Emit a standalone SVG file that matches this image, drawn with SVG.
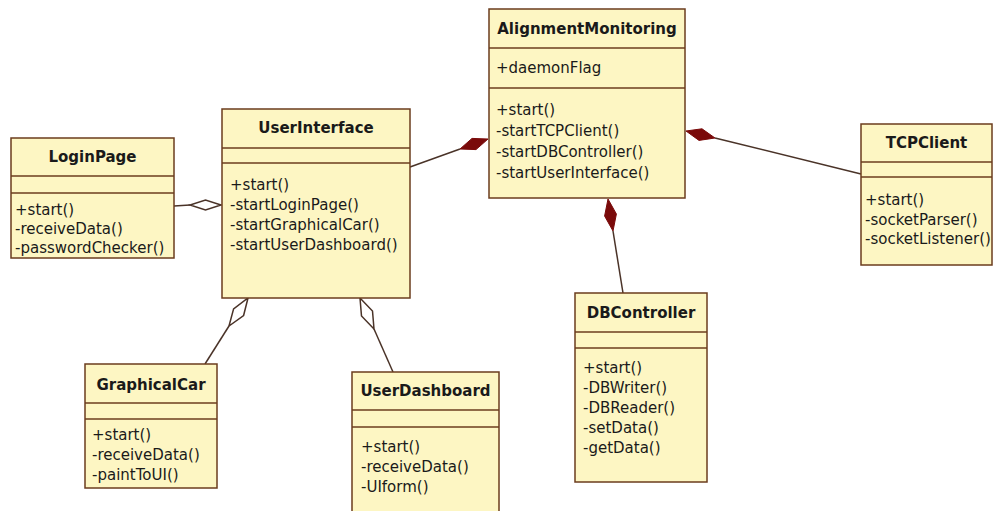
<svg xmlns="http://www.w3.org/2000/svg" width="993" height="511" viewBox="0 0 993 511">
  <style>
    .box { fill: #fdf6c3; stroke: #6b3c1e; stroke-width: 1.5; }
    .sep { stroke: #6b3c1e; stroke-width: 1.5; }
    .title { font-family: "DejaVu Sans", sans-serif; font-weight: bold; font-size: 15px; fill: #1a1a1a; text-anchor: middle; }
    .op { font-family: "DejaVu Sans", sans-serif; font-size: 15px; fill: #1a1a1a; }
    .link { stroke: #4a3328; stroke-width: 1.5; fill: none; }
    .comp { fill: #7a0a0a; stroke: #7a0a0a; stroke-width: 1; }
    .aggr { fill: #ffffff; stroke: #4a3328; stroke-width: 1.5; }
  </style>
  <rect width="993" height="511" fill="#ffffff"/>

  <!-- associations: lines plus composition / aggregation diamonds -->
  <g id="connectors">
    <line class="link" x1="174" y1="206" x2="190" y2="205"/>
    <polygon class="aggr" points="221,205 205.5,200 190,205 205.5,210"/>

    <line class="link" x1="410" y1="167" x2="460" y2="149"/>
    <polygon class="comp" points="488,139 476,149.6 460,149 472,138.4"/>

    <line class="link" x1="715" y1="138" x2="861" y2="174"/>
    <polygon class="comp" points="686,131 699,140.4 715,138 702,128.8"/>

    <line class="link" x1="613" y1="231" x2="623" y2="293"/>
    <polygon class="comp" points="608,199 616.4,214 613,231 604.6,216"/>

    <line class="link" x1="229" y1="326" x2="205" y2="364"/>
    <polygon class="aggr" points="248,298 243.6,315.5 229,326 233.6,308.9"/>

    <line class="link" x1="374" y1="329" x2="393" y2="372"/>
    <polygon class="aggr" points="360,298 372.5,311 374,329 361.5,316"/>
  </g>

  <g id="LoginPage">
    <rect class="box" x="11" y="138" width="163" height="120"/>
    <line class="sep" x1="11" y1="176" x2="174" y2="176"/>
    <line class="sep" x1="11" y1="193" x2="174" y2="193"/>
    <text class="title" x="92.5" y="162">LoginPage</text>
    <text class="op" x="15" y="215">+start()</text>
    <text class="op" x="15" y="234">-receiveData()</text>
    <text class="op" x="15" y="253">-passwordChecker()</text>
  </g>

  <g id="UserInterface">
    <rect class="box" x="222" y="109" width="188" height="189"/>
    <line class="sep" x1="222" y1="148" x2="410" y2="148"/>
    <line class="sep" x1="222" y1="163" x2="410" y2="163"/>
    <text class="title" x="316" y="133">UserInterface</text>
    <text class="op" x="230" y="190">+start()</text>
    <text class="op" x="230" y="210">-startLoginPage()</text>
    <text class="op" x="230" y="230">-startGraphicalCar()</text>
    <text class="op" x="230" y="250">-startUserDashboard()</text>
  </g>

  <g id="AlignmentMonitoring">
    <rect class="box" x="489" y="9" width="196" height="189"/>
    <line class="sep" x1="489" y1="48" x2="685" y2="48"/>
    <line class="sep" x1="489" y1="88" x2="685" y2="88"/>
    <text class="title" x="587" y="34">AlignmentMonitoring</text>
    <text class="op" x="496" y="73">+daemonFlag</text>
    <text class="op" x="496" y="115">+start()</text>
    <text class="op" x="496" y="136">-startTCPClient()</text>
    <text class="op" x="496" y="157">-startDBController()</text>
    <text class="op" x="496" y="178">-startUserInterface()</text>
  </g>

  <g id="TCPClient">
    <rect class="box" x="861" y="124" width="131" height="141"/>
    <line class="sep" x1="861" y1="162" x2="992" y2="162"/>
    <line class="sep" x1="861" y1="177" x2="992" y2="177"/>
    <text class="title" x="926.5" y="148">TCPClient</text>
    <text class="op" x="865" y="205">+start()</text>
    <text class="op" x="865" y="225">-socketParser()</text>
    <text class="op" x="865" y="244">-socketListener()</text>
  </g>

  <g id="DBController">
    <rect class="box" x="575" y="293" width="132" height="189"/>
    <line class="sep" x1="575" y1="332" x2="707" y2="332"/>
    <line class="sep" x1="575" y1="348" x2="707" y2="348"/>
    <text class="title" x="641" y="318">DBController</text>
    <text class="op" x="583" y="373">+start()</text>
    <text class="op" x="583" y="393">-DBWriter()</text>
    <text class="op" x="583" y="413">-DBReader()</text>
    <text class="op" x="583" y="433">-setData()</text>
    <text class="op" x="583" y="453">-getData()</text>
  </g>

  <g id="GraphicalCar">
    <rect class="box" x="85" y="364" width="132" height="124"/>
    <line class="sep" x1="85" y1="403" x2="217" y2="403"/>
    <line class="sep" x1="85" y1="419" x2="217" y2="419"/>
    <text class="title" x="151" y="390">GraphicalCar</text>
    <text class="op" x="92" y="440">+start()</text>
    <text class="op" x="92" y="460">-receiveData()</text>
    <text class="op" x="92" y="480">-paintToUI()</text>
  </g>

  <g id="UserDashboard">
    <rect class="box" x="352" y="372" width="147" height="145"/>
    <line class="sep" x1="352" y1="410" x2="499" y2="410"/>
    <line class="sep" x1="352" y1="427" x2="499" y2="427"/>
    <text class="title" x="425.5" y="396">UserDashboard</text>
    <text class="op" x="361" y="452">+start()</text>
    <text class="op" x="361" y="472">-receiveData()</text>
    <text class="op" x="361" y="492">-UIform()</text>
  </g>
</svg>
